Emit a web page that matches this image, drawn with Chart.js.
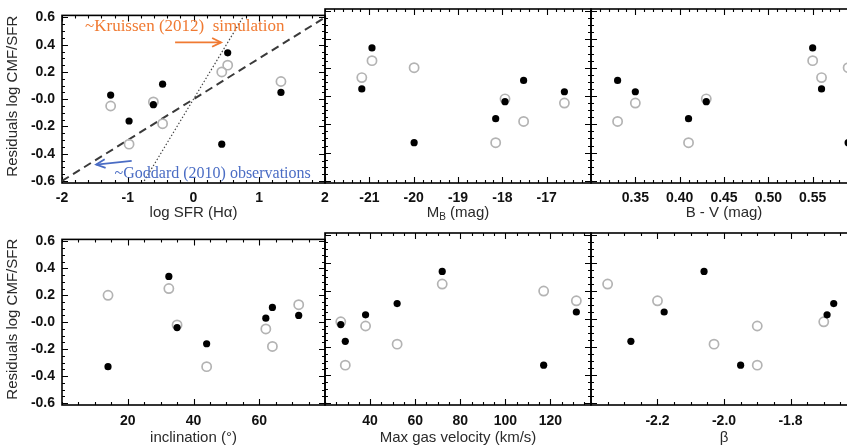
<!DOCTYPE html>
<html><head><meta charset="utf-8">
<script src="https://cdn.jsdelivr.net/npm/chart.js@4.4.1/dist/chart.umd.min.js"></script>
<style>
html,body{margin:0;padding:0;background:#fff;}
#wrap{position:relative;width:847px;height:448px;overflow:hidden;background:#fff;}
#wrap canvas{position:absolute;}
</style></head><body><div id="wrap"></div>
<script>
// ---- data (galaxies in the same order in every array) ----
const residFilled = [0.03, -0.16, -0.04, 0.11, 0.34, -0.33, 0.05];
const residOpen   = [-0.05, -0.33, -0.02, -0.18, 0.25, 0.20, 0.13];
const logSFR      = [-1.26, -0.98, -0.61, -0.47, 0.52, 0.43, 1.33];
const magB        = [-16.6, -18.15, -17.94, -17.52, -20.94, -19.99, -21.17];
const colorBV     = [0.35, 0.41, 0.43, 0.33, 0.55, 0.59, 0.56];
const inclination = [62, 44, 35, 64, 32.5, 14, 72];
const maxGasVel   = [38, 29, 27, 52, 72, 117, 131.5];
const betaFilled  = [-1.69, -2.28, null, -1.67, -2.06, -1.95, -2.18];
const betaOpen    = [-1.90, -1.90, -1.70, -2.03, -2.35, null, -2.20];

// reference relations in panel 1
const dashedLineX = [-2, 2];
const dashedLineY = [-0.6, 0.6];
const dottedLineX = [-0.75, 0.75];
const dottedLineY = [-0.6, 0.6];

// tick labels
const yTicks      = [-0.6, -0.4, -0.2, 0, 0.2, 0.4, 0.6];
const yTickLabels = ['-0.6', '-0.4', '-0.2', '-0.0', '0.2', '0.4', '0.6'];
const xTicksSFR   = [-2, -1, 0, 1, 2];
const xTicksMB    = [-21, -20, -19, -18, -17];
const xTicksBV    = [0.35, 0.40, 0.45, 0.50, 0.55];
const xTicksInc   = [20, 40, 60];
const xTicksVel   = [40, 60, 80, 100, 120];
const xTicksBeta  = [-2.2, -2.0, -1.8];

const FONT = "'Liberation Sans', Arial, Helvetica, sans-serif";
const SERIF = "'Liberation Serif', 'Times New Roman', serif";

const wrap = document.getElementById('wrap');
const ML = 62, MT = 9, MR = 12, MB = 45;

function pts(xs, ys) {
  return ys.map((v, i) => ({x: xs[i], y: v})).filter(p => p.x !== null && p.x !== undefined);
}

function makeFramePlugin(cfg) {
  return {
    id: 'frame',
    beforeDatasetsDraw(chart) {
      const ctx = chart.ctx, a = chart.chartArea, x = chart.scales.x, y = chart.scales.y;
      const near = (v, arr) => arr.some(t => Math.abs(t - v) < 1e-6);
      const xs = [], ys = [];
      const xMinorStart = Math.ceil(cfg.xmin / cfg.xMinor - 1e-6);
      for (let k = xMinorStart; k * cfg.xMinor <= cfg.xmax + 1e-9; k++) {
        const v = k * cfg.xMinor; xs.push([v, near(v, cfg.xt) ? 6 : 3]);
      }
      for (let k = -13; k <= 13; k++) {
        const v = k * 0.05; if (v < -0.615 || v > 0.615) continue;
        ys.push([v, near(v, yTicks) ? 6 : 3]);
      }
      ctx.save();
      ctx.strokeStyle = '#000';
      ctx.lineWidth = 1.1;
      ctx.beginPath();
      xs.forEach(([v, len]) => {
        const p = Math.round(x.getPixelForValue(v)) + 0.5;
        ctx.moveTo(p, a.bottom); ctx.lineTo(p, a.bottom - len);
        ctx.moveTo(p, a.top); ctx.lineTo(p, a.top + len);
      });
      ys.forEach(([v, len]) => {
        const p = Math.round(y.getPixelForValue(v)) + 0.5;
        ctx.moveTo(a.left, p); ctx.lineTo(a.left + len, p);
        ctx.moveTo(a.right, p); ctx.lineTo(a.right - len, p);
      });
      ctx.stroke();
      ctx.lineWidth = 1.6;
      ctx.strokeRect(a.left, a.top, a.right - a.left, a.bottom - a.top);
      ctx.restore();
    },
    afterDraw(chart) {
      const ctx = chart.ctx, a = chart.chartArea;
      ctx.save();
      ctx.fillStyle = '#2a2a2a';
      ctx.textBaseline = 'middle';
      const parts = cfg.xTitle.map(p => Object.assign({}, p));
      let total = 0;
      parts.forEach(p => { ctx.font = (p.sub ? '10px ' : '15px ') + FONT; p.w = ctx.measureText(p.t).width; total += p.w; });
      let cx = (a.left + a.right) / 2 - total / 2;
      const ty = a.bottom + cfg.tOff;
      ctx.textAlign = 'left';
      parts.forEach(p => { ctx.font = (p.sub ? '10px ' : '15px ') + FONT; ctx.fillText(p.t, cx, ty + (p.sub ? 4 : 0)); cx += p.w; });
      if (cfg.yTitle) {
        ctx.translate(13, (a.top + a.bottom) / 2 - 3);
        ctx.rotate(-Math.PI / 2);
        ctx.textAlign = 'center';
        ctx.font = '15px ' + FONT;
        ctx.fillText(cfg.yTitle, 0, 0);
      }
      ctx.restore();
    }
  };
}

function makeAnnotPlugin(cfg) {
  return {
    id: 'annot',
    afterDatasetsDraw(chart) {
      if (!cfg.annot) return;
      const ctx = chart.ctx, x = chart.scales.x, y = chart.scales.y;
      const X = v => x.getPixelForValue(v), Y = v => y.getPixelForValue(v);
      ctx.save();
      cfg.annot.forEach(it => {
        ctx.fillStyle = it.color; ctx.strokeStyle = it.color;
        ctx.font = it.size + 'px ' + SERIF;
        ctx.textAlign = 'left'; ctx.textBaseline = 'middle';
        ctx.fillText(it.text, X(it.textAt[0]), Y(it.textAt[1]));
        const x0 = X(it.from[0]), y0 = Y(it.from[1]), x1 = X(it.to[0]), y1 = Y(it.to[1]);
        ctx.lineWidth = 1.8;
        ctx.beginPath(); ctx.moveTo(x0, y0); ctx.lineTo(x1, y1); ctx.stroke();
        const ang = Math.atan2(y1 - y0, x1 - x0), hl = 10, ha = 0.45;
        ctx.beginPath();
        ctx.moveTo(x1 - hl * Math.cos(ang - ha), y1 - hl * Math.sin(ang - ha));
        ctx.lineTo(x1, y1);
        ctx.lineTo(x1 - hl * Math.cos(ang + ha), y1 - hl * Math.sin(ang + ha));
        ctx.stroke();
      });
      ctx.restore();
    }
  };
}

function panel(cfg) {
  const cv = document.createElement('canvas');
  const W = ML + cfg.w + MR, H = MT + cfg.h + MB;
  cv.width = W; cv.height = H;
  cv.style.left = (cfg.left - ML) + 'px';
  cv.style.top = (cfg.top - MT) + 'px';
  cv.style.width = W + 'px'; cv.style.height = H + 'px';
  wrap.appendChild(cv);
  const datasets = [
    {data: pts(cfg.xf, residFilled), pointRadius: 3.6, pointBackgroundColor: '#000', pointBorderColor: '#000', pointBorderWidth: 0, showLine: false},
    {data: pts(cfg.xo, residOpen), pointRadius: 4.6, pointBackgroundColor: 'rgba(0,0,0,0)', pointBorderColor: '#b3b3b3', pointBorderWidth: 1.7, showLine: false}
  ].concat(cfg.extra || []);
  new Chart(cv, {
    type: 'scatter',
    data: {datasets},
    options: {
      responsive: false, animation: false, events: [],
      layout: {autoPadding: false, padding: {left: 0, top: MT, right: MR, bottom: 0}},
      plugins: {legend: {display: false}, tooltip: {enabled: false}},
      scales: {
        x: {
          type: 'linear', min: cfg.xmin, max: cfg.xmax,
          afterFit: s => { s.height = MB; },
          afterBuildTicks: s => { s.ticks = cfg.xt.map(v => ({value: v})); },
          grid: {display: false, drawTicks: false}, border: {display: false},
          ticks: {padding: cfg.lPad, color: '#111', font: {family: FONT, size: 14, weight: 'bold'}, maxRotation: 0, autoSkip: false,
            callback: v => v.toFixed(cfg.dec)}
        },
        y: {
          type: 'linear', min: -0.615, max: 0.615,
          afterFit: s => { s.width = ML; },
          afterBuildTicks: s => { s.ticks = yTicks.map(v => ({value: v})); },
          grid: {display: false, drawTicks: false}, border: {display: false},
          ticks: {display: !!cfg.yTitle, padding: 7, color: '#111', font: {family: FONT, size: 14, weight: 'bold'},
            callback: (v, i) => yTickLabels[i]}
        }
      }
    },
    plugins: [makeFramePlugin(cfg), makeAnnotPlugin(cfg)]
  });
}

const topY = 9, topH = 174, botY = 233, botH = 172;
const YT = 'Residuals log CMF/SFR';

panel({left: 62, top: topY, w: 263, h: topH, xmin: -2, xmax: 2, xt: xTicksSFR, dec: 0, xMinor: 0.2,
  xf: logSFR, xo: logSFR, yTitle: YT, xTitle: [{t: 'log SFR (H\u03b1)'}], tOff: 30, lPad: 7,
  extra: [
    {type: 'line', data: pts(dashedLineX, dashedLineY), borderColor: '#3a3a3a', borderWidth: 2, borderDash: [8, 5], pointRadius: 0, showLine: true, fill: false},
    {type: 'line', data: pts(dottedLineX, dottedLineY), borderColor: '#444', borderWidth: 1.2, borderDash: [1.5, 2], pointRadius: 0, showLine: true, fill: false}
  ],
  annot: [
    {text: '~Kruissen (2012)  simulation', size: 17, color: '#f07a32', textAt: [-1.65, 0.532], from: [-0.28, 0.417], to: [0.42, 0.417]},
    {text: '~Goddard (2010) observations', size: 16, color: '#4a6cc4', textAt: [-1.2, -0.546], from: [-0.94, -0.452], to: [-1.48, -0.48]}
  ]
});
panel({left: 325, top: topY, w: 266, h: topH, xmin: -22, xmax: -16, xt: xTicksMB, dec: 0, xMinor: 0.2,
  xf: magB, xo: magB, xTitle: [{t: 'M'}, {t: 'B', sub: true}, {t: ' (mag)'}], tOff: 30, lPad: 7});
panel({left: 591, top: topY, w: 266, h: topH, xmin: 0.30, xmax: 0.60, xt: xTicksBV, dec: 2, xMinor: 0.01,
  xf: colorBV, xo: colorBV, xTitle: [{t: 'B - V (mag)'}], tOff: 30, lPad: 7});
panel({left: 62, top: botY, w: 263, h: botH, xmin: 0, xmax: 80, xt: xTicksInc, dec: 0, xMinor: 5,
  xf: inclination, xo: inclination, yTitle: YT, xTitle: [{t: 'inclination (\u00b0)'}], tOff: 33, lPad: 8});
panel({left: 325, top: botY, w: 266, h: botH, xmin: 20, xmax: 138, xt: xTicksVel, dec: 0, xMinor: 5,
  xf: maxGasVel, xo: maxGasVel, xTitle: [{t: 'Max gas velocity (km/s)'}], tOff: 33, lPad: 8});
panel({left: 591, top: botY, w: 266, h: botH, xmin: -2.4, xmax: -1.6, xt: xTicksBeta, dec: 1, xMinor: 0.05,
  xf: betaFilled, xo: betaOpen, xTitle: [{t: '\u03b2'}], tOff: 33, lPad: 8});
</script></body></html>
